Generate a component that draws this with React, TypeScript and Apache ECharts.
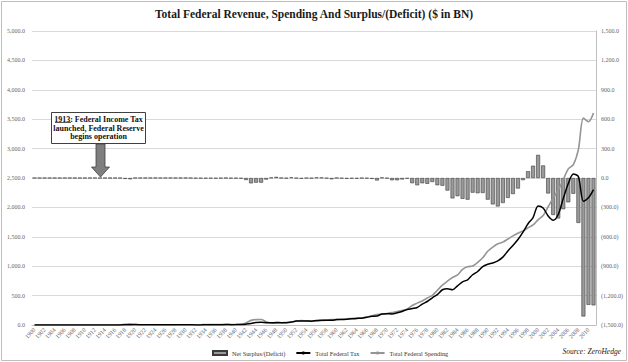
import React, { useEffect, useRef } from "react";
import * as echarts from "echarts";

const years: string[] = [];
for (let y = 1900; y <= 2011; y++) years.push(String(y));

// Total federal receipts ($BN)
const taxValues = [
  0.567, 0.588, 0.562, 0.562, 0.541, 0.544, 0.595, 0.666, 0.602, 0.604,
  0.676, 0.702, 0.693, 0.714, 0.725, 0.683, 0.761, 1.101, 3.645, 5.13,
  6.649, 5.571, 4.026, 3.853, 3.871, 3.641, 3.795, 4.013, 3.9, 3.862,
  4.058, 3.116, 1.924, 1.997, 2.955, 3.609, 3.923, 5.387, 6.751, 6.295,
  6.548, 8.712, 14.634, 24.001, 43.747, 45.159, 39.296, 38.514, 41.56, 39.415,
  39.443, 51.616, 66.167, 69.608, 69.701, 65.451, 74.587, 79.99, 79.636, 79.249,
  92.492, 94.388, 99.676, 106.56, 112.613, 116.817, 130.835, 148.822, 152.973, 186.882,
  192.807, 187.139, 207.309, 230.799, 263.224, 279.09, 298.06, 355.559, 399.561, 463.302,
  517.112, 599.272, 617.766, 600.562, 666.438, 734.037, 769.155, 854.287, 909.238, 991.105,
  1031.958, 1054.988, 1091.208, 1154.335, 1258.566, 1351.79, 1453.053, 1579.232, 1721.728, 1827.452,
  2025.191, 1991.082, 1853.136, 1782.314, 1880.114, 2153.611, 2406.869, 2567.985, 2523.991, 2104.989,
  2162.706, 2303.466,
];

// Total federal outlays ($BN)
const spendingValues = [
  0.521, 0.525, 0.485, 0.517, 0.584, 0.567, 0.57, 0.579, 0.659, 0.694,
  0.694, 0.691, 0.69, 0.715, 0.726, 0.746, 0.713, 1.954, 12.677, 18.493,
  6.358, 5.062, 3.289, 3.14, 2.908, 2.924, 2.93, 2.857, 2.961, 3.127,
  3.32, 3.577, 4.659, 4.598, 6.541, 6.412, 8.228, 7.58, 6.84, 9.141,
  9.468, 13.653, 35.137, 78.555, 91.304, 92.712, 55.232, 34.496, 29.764, 38.835,
  42.562, 45.514, 67.686, 76.101, 70.855, 68.444, 70.64, 76.578, 82.405, 92.098,
  92.191, 97.723, 106.821, 111.316, 118.528, 118.228, 134.532, 157.464, 178.134, 183.64,
  195.649, 210.172, 230.681, 245.707, 269.359, 332.332, 371.792, 409.218, 458.746, 504.028,
  590.941, 678.241, 745.743, 808.364, 851.805, 946.344, 990.382, 1004.017, 1064.416, 1143.743,
  1252.993, 1324.226, 1381.529, 1409.386, 1461.752, 1515.742, 1560.484, 1601.116, 1652.458, 1701.842,
  1788.95, 1862.846, 2010.894, 2159.899, 2292.841, 2471.957, 2655.05, 2728.686, 2982.544, 3517.677,
  3457.079, 3603.059,
];

// Net surplus / (deficit) ($BN)
const surplusValues = [
  0.046, 0.063, 0.077, 0.045, -0.043, -0.023, 0.025, 0.087, -0.057, -0.089,
  -0.018, 0.011, 0.003, -0.0004, -0.0004, -0.063, 0.048, -0.853, -9.032, -13.363,
  0.291, 0.509, 0.736, 0.713, 0.963, 0.717, 0.865, 1.155, 0.939, 0.734,
  0.738, -0.462, -2.735, -2.602, -3.586, -2.803, -4.304, -2.193, -0.089, -2.846,
  -2.92, -4.941, -20.503, -54.554, -47.557, -47.553, -15.936, 4.018, 11.796, 0.58,
  -3.119, 6.102, -1.519, -6.493, -1.154, -2.993, 3.947, 3.412, -2.769, -12.849,
  0.301, -3.335, -7.146, -4.756, -5.915, -1.411, -3.698, -8.643, -25.161, 3.242,
  -2.842, -23.033, -23.373, -14.908, -6.135, -53.242, -73.732, -53.659, -59.185, -40.726,
  -73.83, -78.968, -127.977, -207.802, -185.367, -212.308, -221.227, -149.73, -155.178, -152.639,
  -221.036, -269.238, -290.321, -255.051, -203.186, -163.952, -107.431, -21.884, 69.27, 125.61,
  236.241, 128.236, -157.758, -377.585, -412.727, -318.346, -248.181, -160.701, -458.553, -1412.688,
  -1294.373, -1299.593,
];

const seriesNames = ["Net Surplus/(Deficit)", "Total Federal Tax", "Total Federal Spending"];
const titleText = "Total Federal Revenue, Spending And Surplus/(Deficit) ($ in BN)";
const sourceText = "Source: ZeroHedge";

const SERIF = "'Liberation Serif', 'DejaVu Serif', serif";

function fmt(v: number): string {
  const s = Math.abs(v).toLocaleString("en-US", { minimumFractionDigits: 1, maximumFractionDigits: 1 });
  return v < 0 ? "(" + s + ")" : s;
}

export default function App() {
  const ref = useRef<HTMLDivElement>(null);
  useEffect(() => {
    document.body.style.margin = "0";
    const chart = echarts.init(ref.current!, null, { renderer: "svg" });
    chart.setOption({
      animation: false,
      backgroundColor: "#ffffff",
      title: {
        text: titleText,
        left: "center",
        top: 3,
        textStyle: { fontFamily: SERIF, fontSize: 11.5, fontWeight: "bold", color: "#1a1a1a" },
      },
      grid: { left: 32, right: 32, top: 31, bottom: 37 },
      legend: {
        data: [
          { name: seriesNames[0], icon: "rect" },
          { name: seriesNames[1] },
          { name: seriesNames[2] },
        ],
        left: 207,
        top: 345,
        itemWidth: 14,
        itemHeight: 4,
        itemGap: 10,
        textStyle: { fontFamily: SERIF, fontSize: 6.3, color: "#333" },
      },
      xAxis: {
        type: "category",
        data: years,
        axisLine: { onZero: false, lineStyle: { color: "#bfbfbf" } },
        axisTick: { show: false },
        axisLabel: {
          interval: 1,
          rotate: 45,
          fontSize: 6,
          fontFamily: SERIF,
          color: "#666",
          margin: 4,
        },
      },
      yAxis: [
        {
          type: "value",
          min: 0,
          max: 5000,
          interval: 500,
          axisLine: { show: false },
          axisTick: { show: false },
          splitLine: { lineStyle: { color: "#d9d9d9", width: 1 } },
          axisLabel: { formatter: fmt, fontSize: 6, fontFamily: SERIF, color: "#666", margin: 7 },
        },
        {
          type: "value",
          min: -1500,
          max: 1500,
          interval: 300,
          axisLine: { show: true, lineStyle: { color: "#bfbfbf" } },
          axisTick: { show: false },
          splitLine: { show: false },
          axisLabel: { formatter: fmt, fontSize: 6, fontFamily: SERIF, color: "#666", margin: 5 },
        },
      ],
      series: [
        {
          name: seriesNames[0],
          type: "bar",
          yAxisIndex: 1,
          data: surplusValues,
          barCategoryGap: "22%",
          itemStyle: { color: "#9a9a9a", borderColor: "#3a3a3a", borderWidth: 0.6 },
        },
        {
          name: seriesNames[2],
          type: "line",
          yAxisIndex: 0,
          data: spendingValues,
          symbol: "none",
          smooth: 0.3,
          lineStyle: { color: "#959595", width: 1.6 },
          itemStyle: { color: "#959595" },
        },
        {
          name: seriesNames[1],
          type: "line",
          yAxisIndex: 0,
          data: taxValues,
          symbol: "none",
          smooth: 0.3,
          lineStyle: { color: "#000000", width: 1.5 },
          itemStyle: { color: "#000000" },
        },
      ],
      graphic: [
        {
          type: "rect",
          shape: { x: 1.5, y: 1.5, width: 625, height: 359 },
          style: { fill: "none", stroke: "#bfbfbf", lineWidth: 1 },
          silent: true,
        },
        {
          type: "text",
          right: 7,
          top: 347,
          style: {
            text: sourceText,
            fontFamily: SERIF,
            fontSize: 7.5,
            fontStyle: "italic",
            fill: "#222",
          },
        },
        {
          type: "group",
          z: 100,
          children: [
            {
              type: "rect",
              z: 100,
              shape: { x: 51.5, y: 112.5, width: 94, height: 31 },
              style: { fill: "#ffffff", stroke: "#404040", lineWidth: 1 },
            },
            {
              type: "text",
              z: 101,
              x: 98.5,
              y: 115,
              style: {
                text: "1913: Federal Income Tax\nlaunched, Federal Reserve\nbegins operation",
                fontFamily: SERIF,
                fontSize: 8,
                fontWeight: "bold",
                lineHeight: 8.7,
                align: "center",
                verticalAlign: "top",
                fill: "#111",
              },
            },
            {
              type: "line",
              z: 101,
              shape: { x1: 55, y1: 122.5, x2: 71, y2: 122.5 },
              style: { stroke: "#111", lineWidth: 0.7 },
            },
            {
              type: "polygon",
              z: 101,
              shape: {
                points: [
                  [96, 144],
                  [105, 144],
                  [105, 167],
                  [109.5, 167],
                  [100.5, 177],
                  [91.5, 167],
                  [96, 167],
                ],
              },
              style: { fill: "#7f7f7f", stroke: "#404040", lineWidth: 0.8 },
            },
          ],
        },
      ],
    });
    return () => chart.dispose();
  }, []);
  return <div ref={ref} style={{ width: 628, height: 362 }} />;
}
